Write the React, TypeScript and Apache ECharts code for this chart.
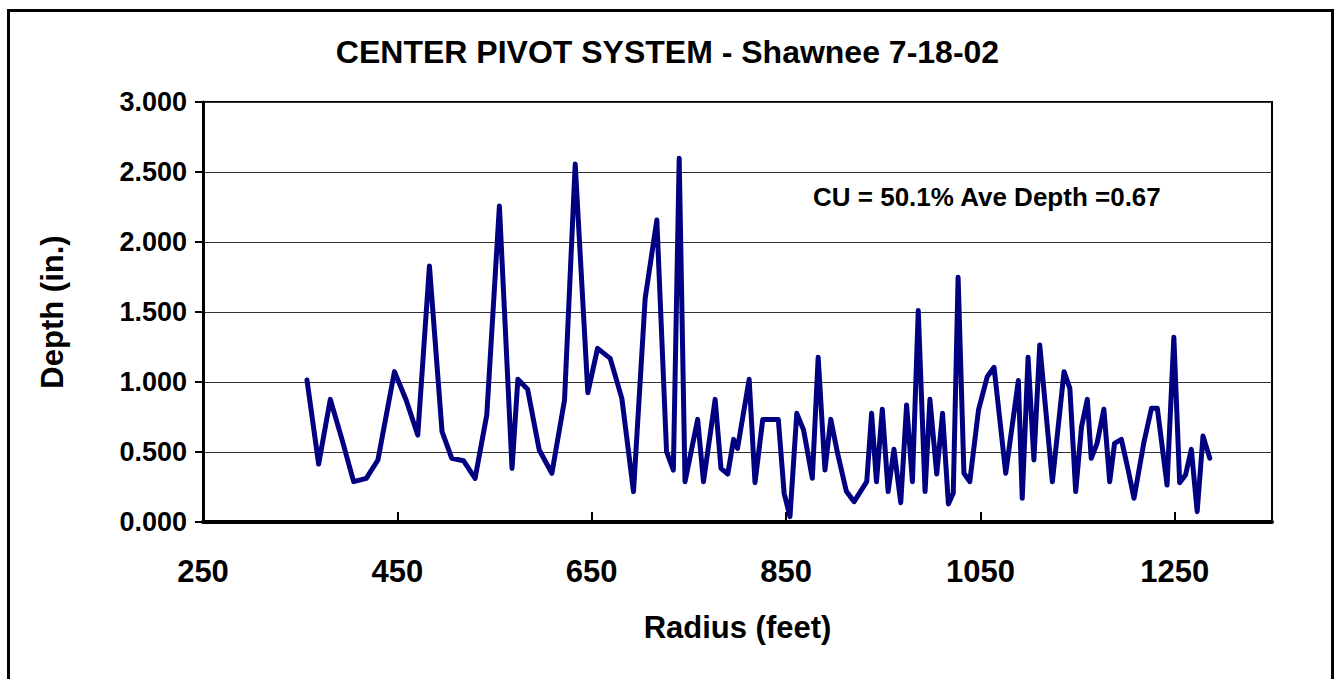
import React, { useEffect, useRef } from "react";
import * as echarts from "echarts";

const radius = [357,369,381,393,405,418,430,447,459,471,483,496,506,518,530,542,555,568,574,584,596,609,622,633,646,656,669,681,693,705,717,727,734,740,746,759,765,777,783,790,796,800,812,818,826,842,848,854,861,868,877,883,890,896,903,912,920,933,938,943,949,955,961,968,974,980,986,993,998,1005,1011,1017,1022,1027,1033,1039,1048,1057,1064,1076,1089,1093,1099,1105,1111,1124,1136,1142,1148,1154,1160,1164,1170,1177,1183,1188,1195,1202,1208,1218,1226,1232,1242,1249,1255,1261,1267,1273,1279,1286];
const depth = [1.014,0.414,0.876,0.59,0.288,0.312,0.443,1.074,0.871,0.621,1.829,0.645,0.455,0.438,0.312,0.764,2.257,0.383,1.019,0.948,0.514,0.348,0.871,2.557,0.924,1.24,1.169,0.883,0.217,1.598,2.157,0.502,0.371,2.598,0.288,0.733,0.288,0.876,0.383,0.343,0.59,0.526,1.019,0.281,0.733,0.733,0.205,0.038,0.776,0.657,0.312,1.176,0.371,0.733,0.49,0.22,0.145,0.288,0.776,0.288,0.805,0.217,0.519,0.138,0.836,0.288,1.51,0.217,0.876,0.343,0.776,0.129,0.205,1.748,0.348,0.288,0.8,1.038,1.105,0.348,1.01,0.169,1.176,0.443,1.264,0.288,1.074,0.955,0.217,0.68,0.876,0.455,0.562,0.805,0.288,0.562,0.59,0.371,0.169,0.562,0.812,0.812,0.264,1.319,0.281,0.336,0.519,0.074,0.614,0.455];

const titleText = "CENTER PIVOT SYSTEM - Shawnee 7-18-02";
const noteText = "CU = 50.1% Ave Depth =0.67";
const xName = "Radius (feet)";
const yName = "Depth (in.)";

const FONT = "'Liberation Sans', Arial, sans-serif";

export default function App() {
  const ref = useRef<HTMLDivElement>(null);
  useEffect(() => {
    document.body.style.margin = "0";
    const chart = echarts.init(ref.current!, null, { renderer: "svg" });
    chart.setOption({
      animation: false,
      backgroundColor: "#fff",
      title: {
        text: titleText,
        left: "center",
        top: 31,
        textStyle: { fontFamily: FONT, fontSize: 32, fontWeight: "bold", color: "#000" },
      },
      graphic: [
        {
          type: "rect",
          left: 6,
          top: 8,
          shape: { width: 1324, height: 700 },
          style: { fill: "none", stroke: "#000", lineWidth: 3 },
          z: 0,
        },
        {
          type: "text",
          left: 813,
          top: 184,
          style: { text: noteText, fontFamily: FONT, fontSize: 26, fontWeight: "bold", fill: "#000" },
          z: 10,
        },
      ],
      grid: {
        left: 203,
        right: 63,
        top: 102,
        bottom: 157,
        show: true,
        borderColor: "#000",
        borderWidth: 2,
        backgroundColor: "transparent",
      },
      xAxis: {
        type: "value",
        min: 250,
        max: 1350,
        interval: 200,
        name: xName,
        nameLocation: "middle",
        nameGap: 90,
        nameTextStyle: { fontFamily: FONT, fontSize: 31, fontWeight: "bold", color: "#000" },
        axisLine: { show: true, onZero: false, lineStyle: { color: "#000", width: 4 } },
        axisTick: { show: true, inside: true, length: 10, lineStyle: { color: "#000", width: 2 } },
        axisLabel: {
          margin: 34,
          fontFamily: FONT,
          fontSize: 31,
          fontWeight: "bold",
          color: "#000",
          showMaxLabel: false,
          formatter: (v: number) => (v > 1300 ? "" : String(v)),
        },
        splitLine: { show: false },
      },
      yAxis: {
        type: "value",
        min: 0,
        max: 3,
        interval: 0.5,
        name: yName,
        nameLocation: "middle",
        nameGap: 135,
        nameTextStyle: { fontFamily: FONT, fontSize: 31, fontWeight: "bold", color: "#000" },
        axisLine: { show: true, lineStyle: { color: "#000", width: 3 } },
        axisTick: { show: true, inside: false, length: 8, lineStyle: { color: "#000", width: 2 } },
        axisLabel: {
          margin: 16,
          fontFamily: FONT,
          fontSize: 27,
          fontWeight: "bold",
          color: "#000",
          formatter: (v: number) => v.toFixed(3),
        },
        splitLine: { show: true, lineStyle: { color: "#333", width: 1 } },
      },
      series: [
        {
          type: "line",
          data: radius.map((r, i) => [r, depth[i]]),
          showSymbol: false,
          symbol: "none",
          lineStyle: { color: "#000080", width: 5, cap: "round", join: "round" },
          z: 5,
        },
      ],
    });
    return () => chart.dispose();
  }, []);
  return <div ref={ref} style={{ width: 1335, height: 679 }} />;
}
